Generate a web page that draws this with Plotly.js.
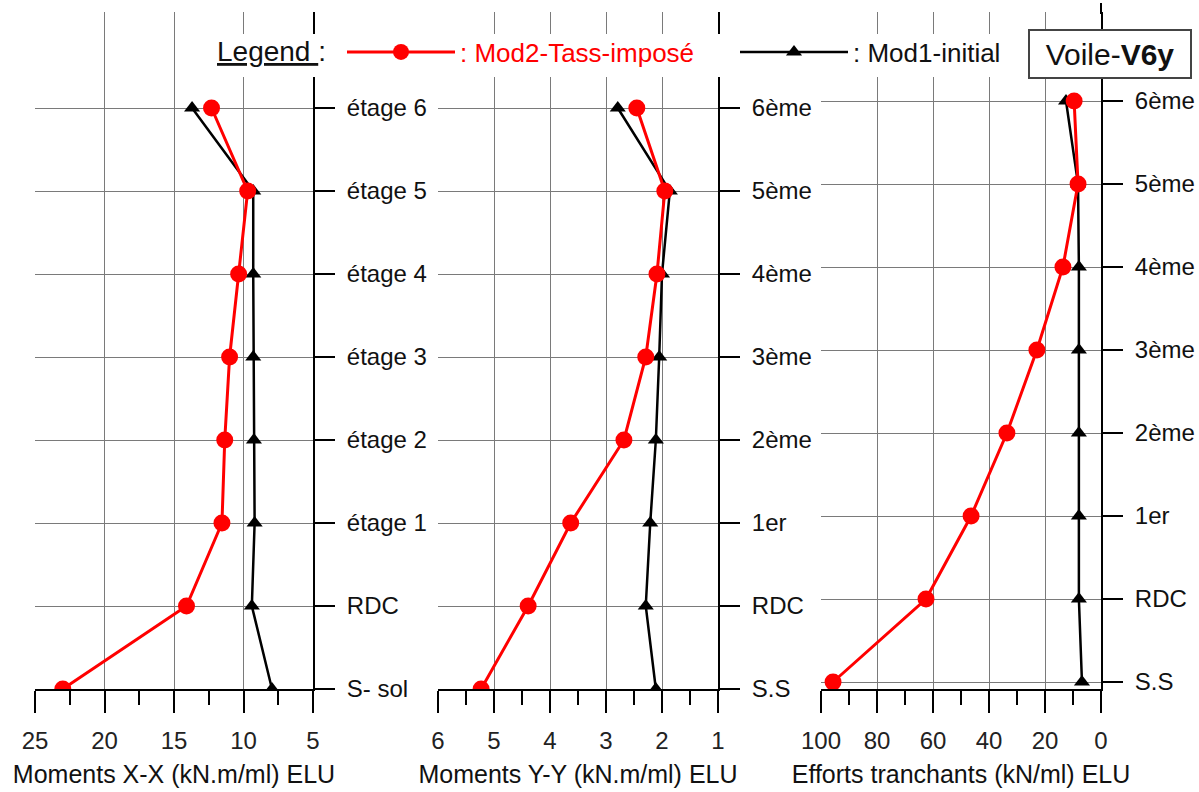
<!DOCTYPE html>
<html>
<head>
<meta charset="utf-8">
<script src="https://cdn.plot.ly/plotly-3.0.1.min.js"></script>
<style>html,body{margin:0;padding:0;background:#fff;}#chart{width:1199px;height:792px;}</style>
</head>
<body>
<div id="chart"></div>
<script>
// Levels (bottom -> top)
const levelsXX = ['S- sol', 'RDC', 'étage 1', 'étage 2', 'étage 3', 'étage 4', 'étage 5', 'étage 6'];
const levelsYY = ['S.S', 'RDC', '1er', '2ème', '3ème', '4ème', '5ème', '6ème'];
const levelsV  = ['S.S', 'RDC', '1er', '2ème', '3ème', '4ème', '5ème', '6ème'];

// Moments X-X (kN.m/ml) ELU
const mxxMod2 = [23.0, 14.1, 11.55, 11.35, 11.0, 10.35, 9.7, 12.3];
const mxxMod1 = [7.95, 9.4, 9.2, 9.25, 9.3, 9.3, 9.3, 13.7];
// Moments Y-Y (kN.m/ml) ELU
const myyMod2 = [5.23, 4.39, 3.63, 2.68, 2.29, 2.09, 1.95, 2.45];
const myyMod1 = [2.11, 2.29, 2.21, 2.11, 2.05, 2.0, 1.86, 2.79];
// Efforts tranchants (kN/ml) ELU
const vMod2 = [95.7, 62.5, 46.4, 33.6, 22.9, 13.6, 8.2, 9.6];
const vMod1 = [6.8, 7.9, 7.9, 7.9, 7.9, 7.9, 8.2, 12.5];

const nameMod2 = ': Mod2-Tass-imposé';
const nameMod1 = ': Mod1-initial';

const RED = '#ff0000';
const FONT = 'Liberation Sans, Arial, sans-serif';

function mod1(x, y, xa, ya, show) {
  return {x: x, y: y, xaxis: xa, yaxis: ya, type: 'scatter', mode: 'lines+markers',
    name: nameMod1, legend: 'legend2', showlegend: show,
    line: {color: '#000', width: 2.5},
    marker: {symbol: 'triangle-up', size: 14, color: '#000'}};
}
function mod2(x, y, xa, ya, show) {
  return {x: x, y: y, xaxis: xa, yaxis: ya, type: 'scatter', mode: 'lines+markers',
    name: '<span style="color:#ff0000">' + nameMod2 + '</span>', legend: 'legend', showlegend: show,
    line: {color: RED, width: 3},
    marker: {symbol: 'circle', size: 17, color: RED}};
}

const data = [
  mod1(mxxMod1, levelsXX, 'x', 'y', true),
  mod2(mxxMod2, levelsXX, 'x', 'y', true),
  mod1(myyMod1, levelsYY, 'x2', 'y2', false),
  mod2(myyMod2, levelsYY, 'x2', 'y2', false),
  mod1(vMod1, levelsV, 'x3', 'y3', false),
  mod2(vMod2, levelsV, 'x3', 'y3', false)
];

const W = 1199, H = 792;
const yDom = [(H - 689) / H, (H - 12) / H];
const px = v => v / W;
const py = v => (H - v) / H;

function xAxis(dom, range, dtick, minor, title, anchor) {
  return {
    domain: dom, range: range, anchor: anchor, dtick: dtick, tick0: 0,
    showline: true, linecolor: '#000', linewidth: 2,
    ticks: 'outside', ticklen: 22, tickwidth: 2, tickcolor: '#000',
    minor: {dtick: minor, ticks: 'outside', ticklen: 14, tickwidth: 2, tickcolor: '#000', showgrid: false},
    showgrid: true, gridcolor: '#7a7a7a', gridwidth: 1, zeroline: false,
    tickfont: {family: FONT, size: 24, color: '#222'}, ticklabelstandoff: 7,
    title: {text: title, font: {family: FONT, size: 25, color: '#111'}, standoff: 13},
    automargin: false, fixedrange: true
  };
}
function yAxis(cats, range, anchor) {
  return {
    domain: yDom, type: 'category', categoryorder: 'array', categoryarray: cats,
    range: range, anchor: anchor, side: 'right',
    showline: true, linecolor: '#000', linewidth: 2,
    ticks: 'outside', ticklen: 20, tickwidth: 2, tickcolor: '#000',
    showgrid: true, gridcolor: '#7a7a7a', gridwidth: 1, zeroline: false,
    tickfont: {family: FONT, size: 24, color: '#111'}, ticklabelstandoff: 7,
    automargin: false, fixedrange: true
  };
}

function legendBox(xLeft) {
  return {
    orientation: 'h', x: px(xLeft), xanchor: 'left', y: py(52), yanchor: 'middle',
    bgcolor: 'rgba(0,0,0,0)', borderwidth: 0, itemwidth: 108,
    font: {family: FONT, size: 26, color: '#111'}
  };
}

const topR = (689 - 12) / 83;
const layout = {
  width: W, height: H,
  margin: {l: 0, r: 0, t: 0, b: 0},
  paper_bgcolor: '#fff', plot_bgcolor: 'rgba(0,0,0,0)',
  font: {family: FONT, size: 22, color: '#111'},
  showlegend: true,
  legend: legendBox(342),
  legend2: legendBox(735),
  xaxis: xAxis([px(35), px(313)], [25, 5], 5, 2.5, 'Moments X-X (kN.m/ml) ELU', 'y'),
  xaxis2: xAxis([px(438), px(718)], [6, 1], 1, 0.5, 'Moments Y-Y (kN.m/ml) ELU', 'y2'),
  xaxis3: xAxis([px(821), px(1101)], [100, 0], 20, 10, 'Efforts tranchants (kN/ml) ELU', 'y3'),
  yaxis: yAxis(levelsXX, [0, topR], 'x'),
  yaxis2: yAxis(levelsYY, [0, topR], 'x2'),
  yaxis3: yAxis(levelsV, [-7 / 83, topR - 7 / 83], 'x3'),
  shapes: [
    // panel 3 vertical axis continues to the top edge
    {type: 'line', xref: 'paper', yref: 'paper', x0: px(1101), x1: px(1101), y0: py(14), y1: py(3),
     line: {color: '#000', width: 2}, layer: 'above'},
    // white band behind the legend (breaks the grid like the reference)
    {type: 'rect', xref: 'paper', yref: 'paper', x0: px(212), x1: px(1012), y0: py(77), y1: py(34),
     fillcolor: '#fff', line: {width: 0}, layer: 'above'}
  ],
  annotations: [
    {xref: 'paper', yref: 'paper', x: px(215), y: py(52), xanchor: 'left', yanchor: 'middle',
     text: '<u>Legend </u>:', showarrow: false,
     font: {family: FONT, size: 28, color: '#111'}},
    {xref: 'paper', yref: 'paper', x: px(1110), y: py(54), xanchor: 'center', yanchor: 'middle',
     text: 'Voile-<b>V6y</b>', showarrow: false, bgcolor: '#fff',
     bordercolor: '#444', borderwidth: 2, borderpad: 5, width: 150, height: 36,
     font: {family: FONT, size: 30, color: '#111'}}
  ]
};

Plotly.newPlot('chart', data, layout, {displayModeBar: false, staticPlot: true});
</script>
</body>
</html>
